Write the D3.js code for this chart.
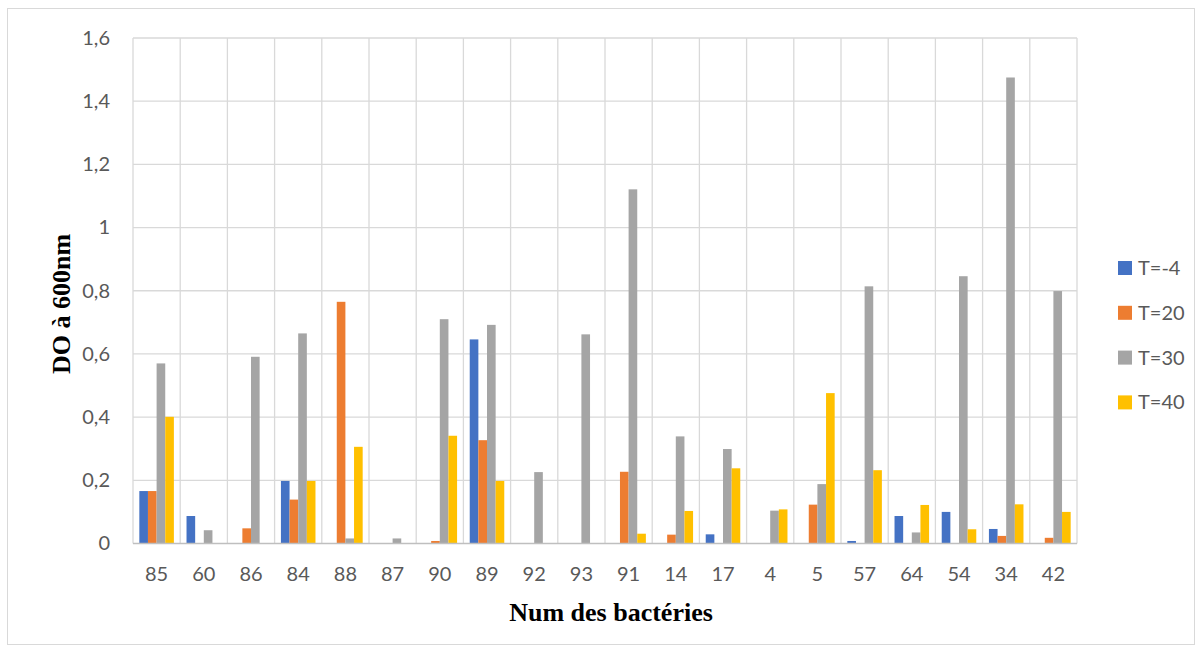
<!DOCTYPE html>
<html>
<head>
<meta charset="utf-8">
<script src="https://cdn.jsdelivr.net/npm/d3@7"></script>
<style>
  html, body { margin: 0; padding: 0; background: #fff; }
  svg { display: block; }
</style>
</head>
<body>
<svg id="chart" width="1202" height="652"></svg>
<script>
// Bacteria strain numbers (x categories)
const categories = ["85","60","86","84","88","87","90","89","92","93","91","14","17","4","5","57","64","54","34","42"];

// Series names (temperature)
const seriesNames = ["T=-4", "T=20", "T=30", "T=40"];

// Optical density at 600 nm for each temperature
const tMinus4 = [0.166,0.087,0,0.198,0,0,0,0.646,0,0,0,0,0.029,0,0,0.008,0.087,0.100,0.046,0];
const t20     = [0.166,0,0.048,0.139,0.765,0,0.008,0.327,0,0,0.227,0.028,0,0,0.123,0,0,0,0.024,0.018];
const t30     = [0.570,0.042,0.591,0.665,0.016,0.016,0.710,0.692,0.226,0.662,1.121,0.339,0.299,0.104,0.188,0.814,0.035,0.846,1.475,0.799];
const t40     = [0.401,0,0,0.198,0.306,0,0.341,0.198,0,0,0.031,0.103,0.238,0.108,0.476,0.232,0.122,0.045,0.124,0.100];

// Y axis ticks
const yTicks = [0, 0.2, 0.4, 0.6, 0.8, 1.0, 1.2, 1.4, 1.6];

const seriesValues = [tMinus4, t20, t30, t40];
const colors = ["#4472C4", "#ED7D31", "#A5A5A5", "#FFC000"];

const labelFont = "Lato, 'Open Sans', sans-serif";
const titleFont = "'Liberation Serif', 'Times New Roman', serif";

const svg = d3.select("#chart");

// outer chart frame
svg.append("rect")
  .attr("x", 7.5).attr("y", 8.5)
  .attr("width", 1187).attr("height", 636)
  .attr("fill", "#fff").attr("stroke", "#d9d9d9").attr("stroke-width", 1);

const plot = { left: 133, right: 1077, top: 38, bottom: 543.5 };

const x0 = d3.scaleBand().domain(categories).range([plot.left, plot.right]).padding(0);
const bw = x0.bandwidth();
const x1 = d3.scaleBand().domain(seriesNames).range([bw * 0.134, bw * 0.866]).padding(0);
const y = d3.scaleLinear().domain([0, 1.6]).range([plot.bottom, plot.top]);

const fmt = v => d3.format(".1f")(v).replace(/\.0$/, "").replace(".", ",");

// horizontal gridlines
svg.append("g")
  .selectAll("line").data(yTicks.slice(1)).join("line")
  .attr("x1", plot.left).attr("x2", plot.right)
  .attr("y1", d => y(d)).attr("y2", d => y(d))
  .attr("stroke", "#d9d9d9").attr("stroke-width", 1.3);

// vertical gridlines at category boundaries
const bounds = categories.map(c => x0(c)).concat([plot.right]);
svg.append("g")
  .selectAll("line").data(bounds).join("line")
  .attr("x1", d => d).attr("x2", d => d)
  .attr("y1", plot.top).attr("y2", plot.bottom)
  .attr("stroke", "#d9d9d9").attr("stroke-width", 1.3);

// bars
const rows = categories.map((c, i) => ({ cat: c, vals: seriesValues.map((s, k) => ({ name: seriesNames[k], v: s[i], k })) }));
svg.append("g")
  .selectAll("g").data(rows).join("g")
  .attr("transform", d => `translate(${x0(d.cat)},0)`)
  .selectAll("rect").data(d => d.vals).join("rect")
  .attr("x", d => x1(d.name))
  .attr("width", x1.bandwidth())
  .attr("y", d => y(d.v))
  .attr("height", d => y(0) - y(d.v))
  .attr("fill", d => colors[d.k]);

// x axis baseline
svg.append("line")
  .attr("x1", plot.left).attr("x2", plot.right)
  .attr("y1", y(0)).attr("y2", y(0))
  .attr("stroke", "#bfbfbf").attr("stroke-width", 1.5);

// y axis tick labels
const yAxis = d3.axisLeft(y).tickValues(yTicks).tickFormat(fmt).tickSize(0).tickPadding(23);
const yg = svg.append("g").attr("transform", `translate(${plot.left},0)`).call(yAxis);
yg.select(".domain").remove();
yg.selectAll("text")
  .attr("fill", "#595959").style("font-family", labelFont).style("font-size", "20px");

// x axis tick labels
const xAxis = d3.axisBottom(x0).tickSize(0);
const xg = svg.append("g").attr("transform", `translate(0,${plot.bottom})`).call(xAxis);
xg.select(".domain").remove();
xg.selectAll("text")
  .attr("y", 30).attr("dy", "0.35em")
  .attr("fill", "#595959").style("font-family", labelFont).style("font-size", "20px");

// axis titles
svg.append("text")
  .attr("x", 611).attr("y", 621)
  .attr("text-anchor", "middle")
  .style("font-family", titleFont)
  .style("font-weight", "bold").style("font-size", "26px")
  .text("Num des bactéries");

svg.append("text")
  .attr("transform", "translate(70,304) rotate(-90)")
  .attr("text-anchor", "middle")
  .style("font-family", titleFont)
  .style("font-weight", "bold").style("font-size", "26px")
  .text("DO à 600nm");

// legend
const legend = svg.append("g").attr("transform", "translate(1118,268)")
  .selectAll("g").data(seriesNames).join("g")
  .attr("transform", (d, i) => `translate(0,${i * 44.8})`);
legend.append("rect")
  .attr("x", 0).attr("y", -7).attr("width", 14).attr("height", 14)
  .attr("fill", (d, i) => colors[i]);
legend.append("text")
  .attr("x", 20).attr("y", 0).attr("dy", "0.35em")
  .attr("fill", "#595959")
  .style("font-family", labelFont).style("font-size", "20px")
  .text(d => d);
</script>
</body>
</html>
